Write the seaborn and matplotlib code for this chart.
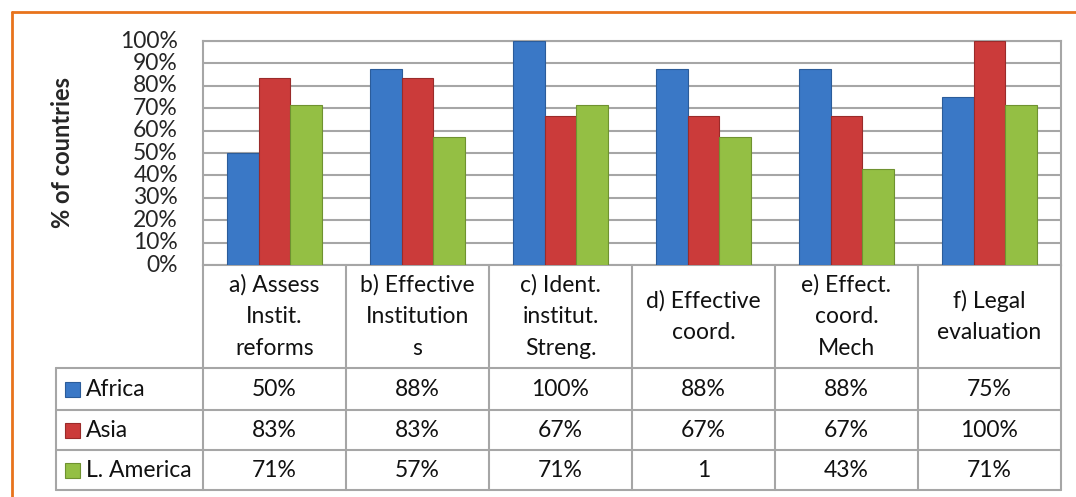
import matplotlib
matplotlib.use("Agg")
import matplotlib.pyplot as plt
from matplotlib.patches import Rectangle
from matplotlib.ticker import PercentFormatter
import pandas as pd
import seaborn as sns

# --- data ---
categories = ["a) Assess\nInstit.\nreforms", "b) Effective\nInstitution\ns",
              "c) Ident.\ninstitut.\nStreng.", "d) Effective\ncoord.",
              "e) Effect.\ncoord.\nMech", "f) Legal\nevaluation"]
regions = ["Africa", "Asia", "L. America"]
africa = [0.50, 0.875, 1.00, 0.875, 0.875, 0.75]
asia = [0.833, 0.833, 0.667, 0.667, 0.667, 1.00]
latam = [0.714, 0.571, 0.714, 0.571, 0.429, 0.714]
# the table in the source shows these strings (note the "1")
table_text = [["50%", "88%", "100%", "88%", "88%", "75%"],
              ["83%", "83%", "67%", "67%", "67%", "100%"],
              ["71%", "57%", "71%", "1", "43%", "71%"]]
colors = {"Africa": "#3A78C6", "Asia": "#CB3B3A", "L. America": "#94BF44"}
edges = {"Africa": "#2B5C9A", "Asia": "#9A2B2A", "L. America": "#6F9230"}

df = pd.DataFrame({
    "cat": categories * 3,
    "region": [r for r in regions for _ in categories],
    "val": africa + asia + latam,
})

sns.set_theme(style="white")
plt.rcParams["font.family"] = ["Lato", "DejaVu Sans"]

W, H = 1076, 497
fig = plt.figure(figsize=(W / 100, H / 100), dpi=100)

def px_axes(x0, y0, x1, y1):
    return fig.add_axes([x0 / W, 1 - y1 / H, (x1 - x0) / W, (y1 - y0) / H])

# orange frame (top and left visible)
fig.add_artist(plt.Line2D([12 / W, 12 / W], [0, 1 - 12 / H], color="#E8731C", lw=2,
                          transform=fig.transFigure))
fig.add_artist(plt.Line2D([12 / W, 1], [1 - 12 / H, 1 - 12 / H], color="#E8731C", lw=2,
                          transform=fig.transFigure))

# --- bar chart ---
px0, px1, py0, py1 = 203, 1061, 41, 265
ax = px_axes(px0, py0, px1, py1)
sns.barplot(data=df, x="cat", y="val", hue="region", palette=colors, width=0.665,
            saturation=1, ax=ax, legend=False, zorder=3)
for patch, reg in zip(ax.patches, [r for r in regions for _ in categories]):
    patch.set_edgecolor(edges[reg])
    patch.set_linewidth(0.8)
ax.set_ylim(0, 1)
ax.set_xlim(-0.5, 5.5)
ax.set_yticks([i / 10 for i in range(11)])
ax.yaxis.set_major_formatter(PercentFormatter(1.0, decimals=0))
ax.set_xticks([])
ax.set_xlabel("")
ax.set_ylabel("% of countries", fontsize=17, fontweight="bold", labelpad=33)
ax.tick_params(axis="y", length=0, labelsize=16.5, pad=18)
for t in ax.get_yticklabels():
    t.set_verticalalignment("center")
ax.grid(axis="y", color="#A6A6A6", lw=1.5, zorder=0)
for s in ax.spines.values():
    s.set_color("#A6A6A6")
    s.set_linewidth(1.5)

# --- data table ---
tx0 = 56
rows_y = [265, 368, 410, 450, 490]
colw = (px1 - px0) / 6
tab = px_axes(tx0, 265, px1, 490)
tab.set_xlim(tx0, px1)
tab.set_ylim(490, 265)
tab.axis("off")
lc = "#A6A6A6"
lw = 1.5
col_x = [px0 + i * colw for i in range(7)]
for x in col_x:
    tab.plot([x, x], [265, 490], color=lc, lw=lw, clip_on=False)
tab.plot([tx0, tx0], [368, 490], color=lc, lw=lw, clip_on=False)
for y in rows_y[1:]:
    tab.plot([tx0, px1], [y, y], color=lc, lw=lw, clip_on=False)

fs = 16.5
for i, cat in enumerate(categories):
    tab.text(px0 + (i + 0.5) * colw, (265 + 368) / 2, cat, ha="center", va="center",
             fontsize=fs, linespacing=1.62, color="#111111")

for r, reg in enumerate(regions):
    yc = (rows_y[r + 1] + rows_y[r + 2]) / 2
    tab.add_patch(Rectangle((65, yc - 7.5), 15, 15, facecolor=colors[reg],
                            edgecolor=edges[reg], lw=0.8, clip_on=False))
    tab.text(86, yc, reg, ha="left", va="center", fontsize=fs, color="#111111")
    for i in range(6):
        tab.text(px0 + (i + 0.5) * colw, yc, table_text[r][i], ha="center",
                 va="center", fontsize=fs, color="#111111")

fig.savefig("out.png", dpi=100)
